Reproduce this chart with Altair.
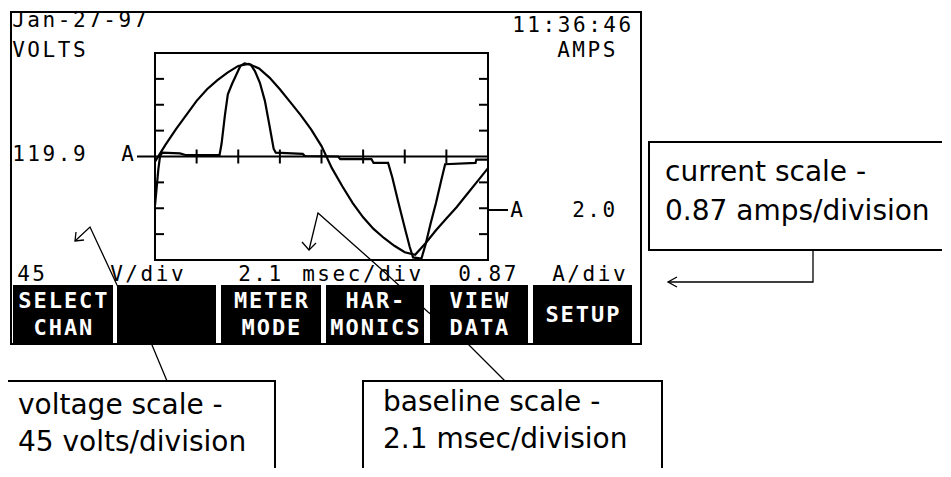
import altair as alt
import pandas as pd

# ---------------- data (screen divisions) ----------------
volt_t = [0.00, 0.25, 0.50, 0.75, 1.00, 1.25, 1.50, 1.75, 2.00, 2.25, 2.50, 2.75,
          3.00, 3.25, 3.50, 3.75, 4.00, 4.25, 4.50, 4.75, 5.00, 5.25, 5.50, 5.75,
          6.00, 6.25, 6.50, 6.75, 7.00, 7.25, 7.50, 7.75, 8.00]
volt_v = [-0.20, 0.45, 1.05, 1.60, 2.15, 2.60, 2.95, 3.25, 3.50, 3.58, 3.40, 3.05,
          2.60, 2.10, 1.60, 1.05, 0.40, -0.45, -1.15, -1.80, -2.35, -2.80, -3.15, -3.45,
          -3.70, -3.80, -3.35, -2.85, -2.40, -1.95, -1.45, -0.95, -0.45]

curr_t = [0.00, 0.04, 0.08, 0.12, 0.17, 0.60, 0.75, 1.55, 1.60, 1.68, 1.75, 1.85,
          1.95, 2.05, 2.15, 2.30, 2.40, 2.52, 2.64, 2.75, 2.85, 2.90, 3.55, 3.60,
          4.40, 4.45, 5.20, 5.25, 5.60, 5.70, 5.85, 6.00, 6.12, 6.20, 6.40, 6.50,
          6.62, 6.75, 6.88, 6.97, 7.70, 7.72, 8.00]
curr_v = [-1.90, -1.20, -0.50, 0.00, 0.15, 0.12, 0.05, 0.05, 0.50, 1.60, 2.40, 2.80,
          3.15, 3.50, 3.60, 3.55, 3.30, 2.85, 2.15, 1.20, 0.30, 0.15, 0.10, 0.02,
          0.00, -0.10, -0.10, -0.25, -0.25, -0.80, -1.80, -2.75, -3.50, -3.90, -3.95, -3.40,
          -2.60, -1.80, -0.90, -0.30, -0.25, -0.12, -0.12]

screen_labels = ["Jan-27-97", "VOLTS", "11:36:46", "AMPS", "119.9", "A", "A", "2.0"]
scale_labels = ["45", "V/div", "2.1", "msec/div", "0.87", "A/div"]
button_labels = [["SELECT", "CHAN"], [], ["METER", "MODE"], ["HAR-", "MONICS"],
                 ["VIEW", "DATA"], ["SETUP"]]
note_labels = [["current scale -", "0.87 amps/division"],
               ["voltage scale -", "45 volts/division"],
               ["baseline scale -", "2.1 msec/division"]]

# ---------------- layout (page pixels) ----------------
OX, OY = 155.0, 53.0          # top-left of the trace window
W, H = 333, 207
XD, YD = W / 8.0, H / 8.0
CY = OY + H / 2.0


def dx(px):
    return (px - OX) / XD


def dy(py):
    return (CY - py) / YD


XS = alt.Scale(domain=[0, 8], nice=False, zero=False)
YS = alt.Scale(domain=[-4, 4], nice=False, zero=False)
X = alt.X("x:Q", scale=XS, axis=None)
Y = alt.Y("y:Q", scale=YS, axis=None)

screen_pos = [(12, 21), (12, 51), (512, 26), (557, 51), (12, 155), (121, 155),
              (510, 211), (572, 211)]
scale_pos = [17, 110, 238, 302, 458, 552]
SCALE_Y = 275
button_x = [(13, 113), (117, 216), (221, 321), (326, 424), (430, 528), (533, 632)]
BTN_TOP, BTN_BOT = 285, 343
note_boxes = [(649, 142, 960, 250), (7, 381, 275, 520), (363, 381, 662, 475)]
note_text_pos = [(665, 173, 212), (18, 406, 443), (383, 403, 440)]
PITCH = 15.2


def lcd_rows(text, x0, yc):
    rows = []
    for i, ch in enumerate(text):
        if ch != " ":
            rows.append({"x": dx(x0 + 6.5 + i * PITCH), "y": dy(yc), "t": ch})
    return rows


def seg_df(segs):
    return pd.DataFrame([{"x": dx(a), "y": dy(b), "x2": dx(c), "y2": dy(d)}
                         for a, b, c, d in segs])


def rules(segs, width):
    return alt.Chart(seg_df(segs)).mark_rule(color="black", strokeWidth=width).encode(
        x=X, y=Y, x2="x2:Q", y2="y2:Q")


layers = []

# screen frame
layers.append(rules([(10, 12, 642, 12), (11, 12, 11, 345), (641, 12, 641, 345),
                     (11, 344, 641, 344)], 2))

# centre line, A markers, ticks
tick_segs = [(137, CY, OX + W, CY), (OX + W, 210, 508, 210)]
for k in [-3, -2, -1, 1, 2, 3]:
    yy = CY - k * YD
    tick_segs.append((OX, yy, OX + 9, yy))
    tick_segs.append((OX + W - 9, yy, OX + W, yy))
for k in range(1, 8):
    xx = OX + k * XD
    tick_segs.append((xx, CY - 7, xx, CY + 7))
layers.append(rules(tick_segs, 2))

# waveforms
wave = pd.DataFrame(
    [{"x": t, "y": v, "s": "volts", "i": i} for i, (t, v) in enumerate(zip(volt_t, volt_v))] +
    [{"x": t, "y": v, "s": "amps", "i": i} for i, (t, v) in enumerate(zip(curr_t, curr_v))])
layers.append(alt.Chart(wave).mark_line(color="black", strokeWidth=2.2).encode(
    x=X, y=Y, detail="s:N", order="i:Q"))

# screen text
lcd = []
for lab, (x0, yc) in zip(screen_labels, screen_pos):
    lcd += lcd_rows(lab, x0, yc)
for lab, x0 in zip(scale_labels, scale_pos):
    lcd += lcd_rows(lab, x0, SCALE_Y)
layers.append(alt.Chart(pd.DataFrame(lcd)).mark_text(
    font="DejaVu Sans Mono", fontSize=21, color="black", align="center",
    baseline="middle").encode(x=X, y=Y, text="t:N"))

# annotation boxes
box_df = pd.DataFrame([{"x": dx(a), "y": dy(b), "x2": dx(c), "y2": dy(d)}
                       for a, b, c, d in note_boxes])
layers.append(alt.Chart(box_df).mark_rect(fill="white", stroke="black", strokeWidth=2).encode(
    x=X, y=Y, x2="x2:Q", y2="y2:Q"))
note_rows = []
for lines, (x0, y1, y2) in zip(note_labels, note_text_pos):
    note_rows.append({"x": dx(x0), "y": dy(y1), "t": lines[0]})
    note_rows.append({"x": dx(x0), "y": dy(y2), "t": lines[1]})
layers.append(alt.Chart(pd.DataFrame(note_rows)).mark_text(
    font="DejaVu Sans", fontSize=28, color="black", align="left",
    baseline="middle").encode(x=X, y=Y, text="t:N"))

# pointer arrows (drawn beneath the soft-key bar)
arrows = [
    [(505, 381), (467, 343), (428, 312), (380, 268), (318, 213), (309, 250)],
    [(302, 242), (309, 250), (316, 243)],
    [(167, 381), (152, 345), (117, 285), (90, 227), (75, 241)],
    [(84, 240), (75, 241), (76, 232)],
    [(813, 250), (813, 282), (668, 282)],
    [(677, 277), (668, 282), (677, 287)],
]
arr_rows = []
for g, pts in enumerate(arrows):
    for o, (px, py) in enumerate(pts):
        arr_rows.append({"x": dx(px), "y": dy(py), "g": g, "o": o})
layers.append(alt.Chart(pd.DataFrame(arr_rows)).mark_line(color="black", strokeWidth=1.3).encode(
    x=X, y=Y, detail="g:N", order="o:Q"))

# soft-key buttons
btn_df = pd.DataFrame([{"x": dx(a), "x2": dx(b), "y": dy(BTN_TOP), "y2": dy(BTN_BOT)}
                       for a, b in button_x])
layers.append(alt.Chart(btn_df).mark_rect(color="black").encode(
    x=X, y=Y, x2="x2:Q", y2="y2:Q"))
btn_txt = []
for lines, (a, b) in zip(button_labels, button_x):
    cx = (a + b) / 2.0
    ys = [315] if len(lines) == 1 else [301, 328]
    for line, yc in zip(lines, ys):
        x0 = cx - (len(line) * PITCH - 2) / 2.0
        btn_txt += lcd_rows(line, x0, yc)
layers.append(alt.Chart(pd.DataFrame(btn_txt)).mark_text(
    font="DejaVu Sans Mono", fontSize=22, fontWeight="bold", color="white", align="center",
    baseline="middle").encode(x=X, y=Y, text="t:N"))

TOTAL_W, TOTAL_H = 934, 460
chart = alt.layer(*layers).properties(
    width=W, height=H,
    padding={"left": OX - 8, "top": OY - 8,
             "right": TOTAL_W - (OX - 8) - W, "bottom": TOTAL_H - (OY - 8) - H},
    autosize=alt.AutoSizeParams(type="none"),
).configure_view(stroke="black", strokeWidth=2)

chart.save("out.html", embed_options={"renderer": "svg", "actions": False})
